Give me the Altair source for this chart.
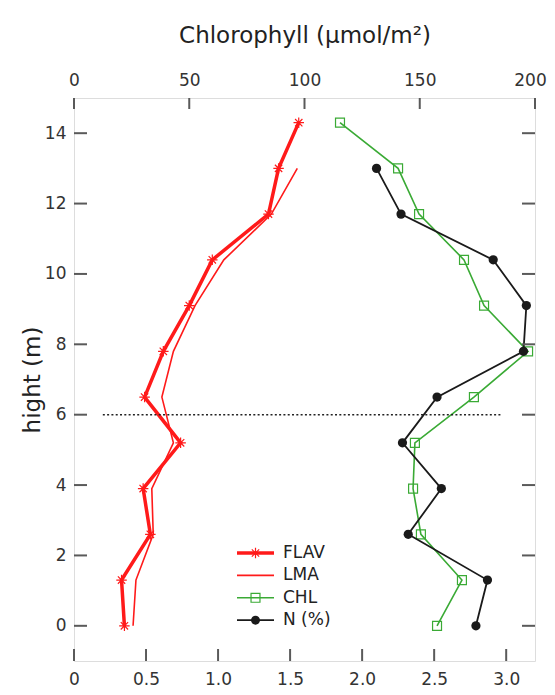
import altair as alt
import pandas as pd

# ---- data ----
heights = [0, 1.3, 2.6, 3.9, 5.2, 6.5, 7.8, 9.1, 10.4, 11.7, 13.0, 14.3]
flav = [0.35, 0.33, 0.53, 0.48, 0.74, 0.49, 0.62, 0.80, 0.96, 1.35, 1.42, 1.56]
lma_heights = [0, 1.3, 2.6, 3.9, 5.2, 6.5, 7.8, 9.1, 10.4, 11.7, 13.0]
lma = [0.41, 0.43, 0.55, 0.54, 0.69, 0.61, 0.69, 0.84, 1.04, 1.37, 1.55]
chl = [157.5, 168.3, 150.5, 147.1, 147.9, 173.5, 197.0, 177.9, 169.2, 149.7, 140.6, 115.4]
n_heights = [0, 1.3, 2.6, 3.9, 5.2, 6.5, 7.8, 9.1, 10.4, 11.7, 13.0]
n_pct = [2.79, 2.87, 2.32, 2.55, 2.28, 2.52, 3.12, 3.14, 2.91, 2.27, 2.10]

bottom_ticks = [0, 0.5, 1.0, 1.5, 2.0, 2.5, 3.0]
top_ticks = [0, 50, 100, 150, 200]
y_ticks = [0, 2, 4, 6, 8, 10, 12, 14]
threshold_h = [6]
threshold_x = [0.2]
threshold_x2 = [2.97]

legend_labels = ["FLAV", "LMA", "CHL", "N (%)"]

RED = "#ff1a1a"
GREEN = "#3aaa35"
BLACK = "#1a1a1a"
FRAME = "#5a5a5a"
FONT = "DejaVu Sans"
ASTERISK = "M0,-1L0,1M-1,0L1,0M-0.7,-0.7L0.7,0.7M-0.7,0.7L0.7,-0.7"

W, H = 461, 563

df_flav = pd.DataFrame({"h": heights, "v": flav})
df_lma = pd.DataFrame({"h": lma_heights, "v": lma})
df_chl = pd.DataFrame({"h": heights, "v": chl})
df_n = pd.DataFrame({"h": n_heights, "v": n_pct})
df_bt = pd.DataFrame({"t": bottom_ticks})
df_tt = pd.DataFrame({"t": top_ticks})
df_yt = pd.DataFrame({"t": y_ticks})
df_thr = pd.DataFrame({"h": threshold_h, "x": threshold_x, "x2": threshold_x2})

yscale = alt.Scale(domain=[-1, 15], nice=False, zero=False)
yaxis = alt.Axis(values=y_ticks, ticks=False, tickSize=0, domain=False, grid=False,
                 labelFontSize=17, labelPadding=8, labelColor="#333", labelFont=FONT,
                 labelFlush=False, labelOverlap=False,
                 title="hight (m)", titleFontSize=23, titleFontWeight="normal",
                 titleFont=FONT, titleColor="#222", titlePadding=0)
bscale = alt.Scale(domain=[0, 3.2], nice=False, zero=False)
baxis = alt.Axis(orient="bottom", values=bottom_ticks, ticks=False, tickSize=0,
                 domain=False, grid=False, labelFontSize=17, labelPadding=10,
                 labelColor="#333", labelFont=FONT, labelFlush=False, labelOverlap=False,
                 labelExpr="datum.value == 0 ? '0' : format(datum.value, '.1f')",
                 title=None)
tscale = alt.Scale(domain=[0, 200], nice=False, zero=False)
taxis = alt.Axis(orient="top", values=top_ticks, format="d", ticks=False, tickSize=0,
                 domain=False, grid=False, labelFontSize=17, labelPadding=9,
                 labelColor="#333", labelFont=FONT, labelFlush=False, labelOverlap=False,
                 labelOffset={"expr": "datum.value == 200 ? -5 : 0"},
                 title="Chlorophyll (\u03bcmol/m\u00b2)", titleFontSize=23,
                 titleFontWeight="normal", titleFont=FONT, titleColor="#222",
                 titlePadding=24)


def Y(field="h"):
    return alt.Y(f"{field}:Q", scale=yscale, axis=yaxis)


def XB(field="v"):
    return alt.X(f"{field}:Q", scale=bscale, axis=baxis)


def XT(field="v"):
    return alt.X(f"{field}:Q", scale=tscale, axis=taxis)


order = alt.Order("h:Q")

# ---- top (chlorophyll) group ----
chl_line = alt.Chart(df_chl).mark_line(color=GREEN, strokeWidth=1.6).encode(
    x=XT(), y=Y(), order=order)
chl_pts = alt.Chart(df_chl).mark_point(shape="square", filled=False, color=GREEN,
                                        strokeWidth=1.2, size=80, opacity=1).encode(
    x=XT(), y=Y())
top_tick_marks = alt.Chart(df_tt).mark_rule(color=FRAME, strokeWidth=2).encode(
    x=XT("t"), y=alt.value(0), y2=alt.value(11))
top_group = alt.layer(chl_line, chl_pts, top_tick_marks)

# ---- bottom group ----
lma_line = alt.Chart(df_lma).mark_line(color=RED, strokeWidth=1.6).encode(
    x=XB(), y=Y(), order=order)
flav_line = alt.Chart(df_flav).mark_line(color=RED, strokeWidth=3.5).encode(
    x=XB(), y=Y(), order=order)
flav_pts = alt.Chart(df_flav).mark_point(shape=ASTERISK, filled=False, color=RED,
                                          strokeWidth=1.2, size=110, opacity=1).encode(
    x=XB(), y=Y())
n_line = alt.Chart(df_n).mark_line(color=BLACK, strokeWidth=1.8).encode(
    x=XB(), y=Y(), order=order)
n_pts = alt.Chart(df_n).mark_point(shape="circle", filled=True, color=BLACK,
                                    size=85, opacity=1).encode(x=XB(), y=Y())
thr = alt.Chart(df_thr).mark_rule(color="#222", strokeWidth=1.6,
                                   strokeDash=[2, 2.3]).encode(
    x=XB("x"), x2="x2:Q", y=Y())
bt_marks = alt.Chart(df_bt).mark_rule(color=FRAME, strokeWidth=2).encode(
    x=XB("t"), y=alt.value(H), y2=alt.value(H - 12))
lt_marks = alt.Chart(df_yt).mark_rule(color=FRAME, strokeWidth=2).encode(
    y=Y("t"), x=alt.value(0), x2=alt.value(13))
rt_marks = alt.Chart(df_yt).mark_rule(color=FRAME, strokeWidth=2).encode(
    y=Y("t"), x=alt.value(W), x2=alt.value(W - 13))

# ---- legend (drawn by hand, lower middle of plot) ----
df_leg = pd.DataFrame({"label": legend_labels})
leg_layers = []
leg_styles = [
    (RED, 3.5, ASTERISK, False),
    (RED, 1.6, None, False),
    (GREEN, 1.6, "square", False),
    (BLACK, 1.8, "circle", True),
]
for i, (lab, (col, sw, shp, filled)) in enumerate(zip(legend_labels, leg_styles)):
    yy = 455 + i * 22.4
    sub = df_leg[df_leg["label"] == lab]
    leg_layers.append(alt.Chart(sub).mark_rule(color=col, strokeWidth=sw).encode(
        x=alt.value(163), x2=alt.value(200), y=alt.value(yy)))
    if shp is not None:
        leg_layers.append(alt.Chart(sub).mark_point(
            shape=shp, filled=filled, color=col, strokeWidth=1.2,
            size=110 if shp == ASTERISK else 80, opacity=1).encode(
            x=alt.value(181.5), y=alt.value(yy)))
    leg_layers.append(alt.Chart(sub).mark_text(
        align="left", baseline="middle", fontSize=17, font=FONT, color="#222").encode(
        x=alt.value(209), y=alt.value(yy), text="label:N"))

bottom_group = alt.layer(lma_line, flav_line, flav_pts, n_line, n_pts, thr,
                         bt_marks, lt_marks, rt_marks, *leg_layers)

chart = alt.layer(top_group, bottom_group).resolve_scale(x="independent").properties(
    width=W, height=H,
    autosize=alt.AutoSizeParams(type="none"),
    padding={"left": 66, "top": 90, "right": 12, "bottom": 26},
).configure_view(stroke=FRAME, strokeWidth=2).configure(font=FONT)

chart.save("out.html", embed_options={"renderer": "svg", "actions": False})
